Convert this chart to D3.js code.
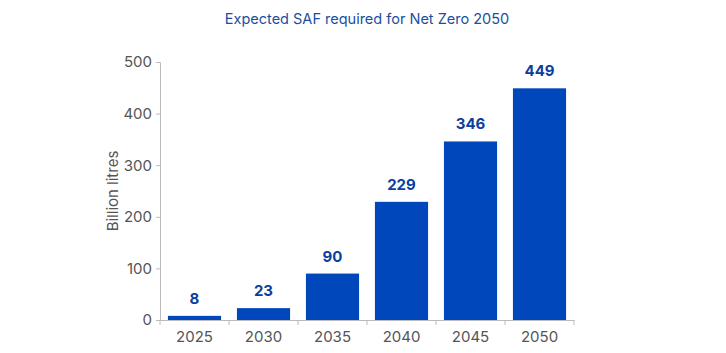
<!DOCTYPE html>
<html>
<head>
<meta charset="utf-8">
<script src="https://cdn.jsdelivr.net/npm/d3@7"></script>
<style>
  body { margin: 0; background: #fff; }
  text { font-family: Inter, "Noto Sans", sans-serif; }
</style>
</head>
<body>
<svg id="chart" width="726" height="353"></svg>
<script>
var years = ["2025", "2030", "2035", "2040", "2045", "2050"];
var safValues = [8, 23, 90, 229, 346, 449];
var yTicks = [0, 100, 200, 300, 400, 500];

var width = 726, height = 353;
var margin = { top: 62, right: 152, bottom: 33, left: 160 };
var svg = d3.select("#chart");

var x = d3.scaleBand()
    .domain(years)
    .range([margin.left, width - margin.right])
    .paddingInner(0.23)
    .paddingOuter(0.115);

var y = d3.scaleLinear()
    .domain([0, 500])
    .range([height - margin.bottom, margin.top]);

// title
svg.append("text")
    .attr("x", (margin.left + width - margin.right) / 2)
    .attr("y", 24)
    .attr("text-anchor", "middle")
    .attr("fill", "#1a4f9f")
    .style("font-size", "14.5px")
    .text("Expected SAF required for Net Zero 2050");

// bars
svg.append("g").selectAll("rect")
    .data(safValues)
    .enter()
    .append("rect")
    .attr("x", (d, i) => x(years[i]))
    .attr("y", d => y(d))
    .attr("width", x.bandwidth())
    .attr("height", d => y(0) - y(d))
    .attr("fill", "#0047bb");

// value labels
svg.append("g").selectAll("text")
    .data(safValues)
    .enter()
    .append("text")
    .attr("x", (d, i) => x(years[i]) + x.bandwidth() / 2)
    .attr("y", d => y(d) - 12)
    .attr("text-anchor", "middle")
    .attr("fill", "#0b3f9e")
    .style("font-size", "15px")
    .style("font-weight", "bold")
    .text(d => d);

// y axis
var yAxis = svg.append("g")
    .attr("transform", "translate(" + margin.left + ",0)")
    .call(d3.axisLeft(y).tickValues(yTicks).tickSize(4).tickPadding(4));
yAxis.select(".domain").attr("stroke", "#bbbbbb");
yAxis.selectAll(".tick line").attr("stroke", "#bbbbbb");
yAxis.selectAll(".tick text")
    .attr("fill", "#555")
    .style("font-size", "15px")
    .style("font-family", "Inter, 'Noto Sans', sans-serif");

// x axis
var xAxis = svg.append("g")
    .attr("transform", "translate(0," + y(0) + ")")
    .call(d3.axisBottom(x).tickSize(0).tickPadding(11));
xAxis.select(".domain").attr("stroke", "#bbbbbb");
xAxis.selectAll(".tick text")
    .attr("fill", "#555")
    .style("font-size", "15px")
    .style("font-family", "Inter, 'Noto Sans', sans-serif");

// band boundary ticks on x axis
var bounds = years.map(d => x(d) - x.step() * x.paddingInner() / 2);
bounds.push(width - margin.right);
bounds[0] = margin.left;
xAxis.selectAll("line.sep")
    .data(bounds)
    .enter()
    .append("line")
    .attr("class", "sep")
    .attr("x1", d => d).attr("x2", d => d)
    .attr("y1", 0).attr("y2", 5)
    .attr("stroke", "#bbbbbb");

// y axis title
svg.append("text")
    .attr("transform", "translate(118," + ((margin.top + height - margin.bottom) / 2) + ") rotate(-90)")
    .attr("text-anchor", "middle")
    .attr("fill", "#555")
    .style("font-size", "15px")
    .text("Billion litres");
</script>
</body>
</html>
